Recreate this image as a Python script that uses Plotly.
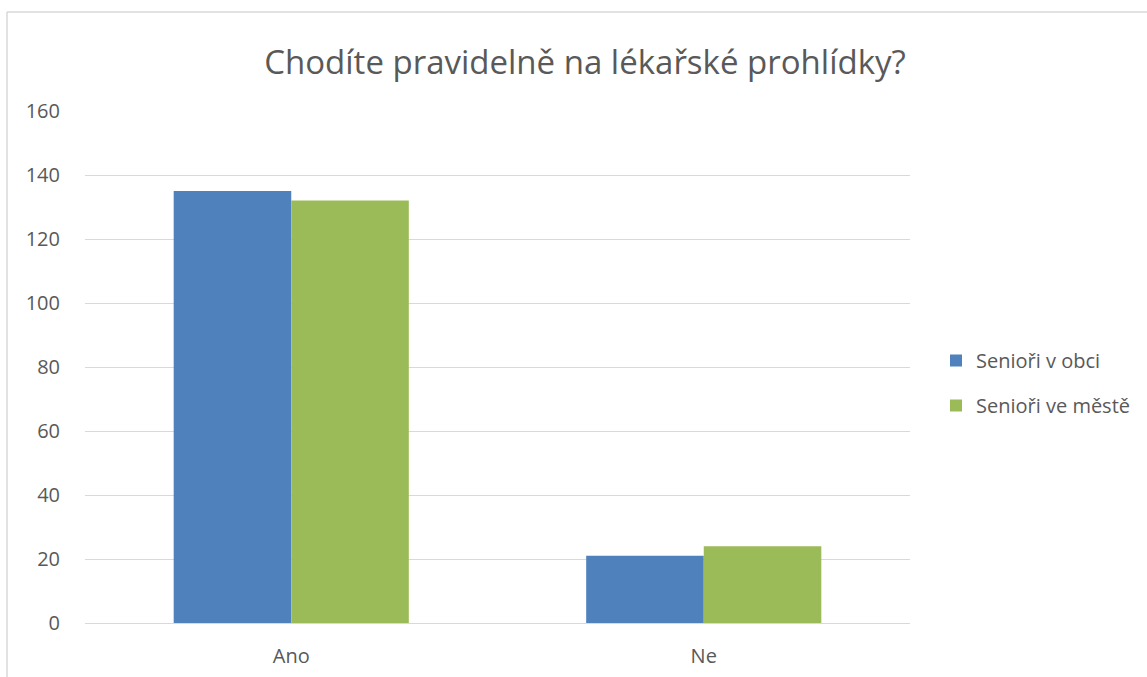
import plotly.graph_objects as go

categories = ["Ano", "Ne"]
senior_obec = [135, 21]
senior_mesto = [132, 24]
series_names = ["Senioři v obci", "Senioři ve městě"]
y_ticks = [0, 20, 40, 60, 80, 100, 120, 140, 160]

FONT = "'Open Sans', sans-serif"
TEXT = "#595959"
GRID = "#d9d9d9"

fig = go.Figure()
fig.add_trace(go.Bar(x=categories, y=senior_obec, name=series_names[0], legendgroup="a",
                     marker=dict(color="#4f81bd", line=dict(width=0))))
fig.add_trace(go.Bar(x=categories, y=senior_mesto, name=series_names[1], legendgroup="b",
                     marker=dict(color="#9bbb59", line=dict(width=0))))

W, H = 1147, 677
L, R, T, B = 85, 237, 111, 54
pw, ph = W - L - R, H - T - B

fig.update_layout(
    width=W, height=H,
    margin=dict(l=L, r=R, t=T, b=B, autoexpand=False),
    paper_bgcolor="white", plot_bgcolor="white",
    barmode="group", bargap=0.43, bargroupgap=0,
    font=dict(family=FONT, color=TEXT, size=20),
    title=dict(text="Chodíte pravidelně na lékařské prohlídky?",
               x=585 / W, xanchor="center", y=1 - 62 / H, yanchor="middle",
               font=dict(size=33, color=TEXT, family=FONT)),
    xaxis=dict(showgrid=False, showline=False, ticks="", tickfont=dict(size=20, color=TEXT),
               ticklabelstandoff=19),
    yaxis=dict(range=[0, 160], tickvals=y_ticks, showgrid=True, gridcolor=GRID, gridwidth=1,
               zeroline=True, zerolinecolor=GRID, zerolinewidth=1, showline=False,
               ticks="", tickfont=dict(size=20, color=TEXT), ticklabelstandoff=24),
    legend=dict(x=(936 - L) / pw, xanchor="left", y=(H - B - 383) / ph, yanchor="middle",
                font=dict(size=20, color=TEXT), itemwidth=30, tracegroupgap=16,
                traceorder="grouped"),
    showlegend=True,
)

# chart frame (top and left edges visible)
fx0 = (7 - L) / pw
fy1 = (H - B - 12) / ph
fig.add_shape(type="line", xref="paper", yref="paper", x0=fx0, x1=(W + 10 - L) / pw,
              y0=fy1, y1=fy1, line=dict(color=GRID, width=1.5), layer="below")
fig.add_shape(type="line", xref="paper", yref="paper", x0=fx0, x1=fx0,
              y0=fy1, y1=-(B + 10) / ph, line=dict(color=GRID, width=1.5), layer="below")

fig.write_html("out.html")
